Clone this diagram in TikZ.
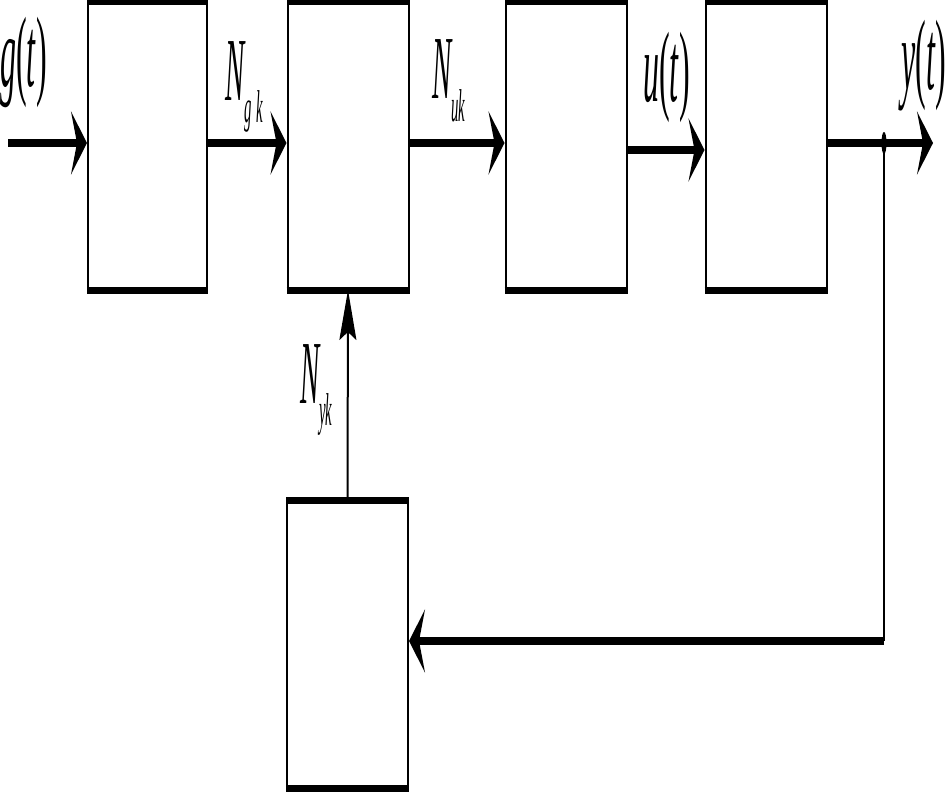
\documentclass[tikz,border=0pt]{standalone}
\usepackage{fontspec}
\usepackage{tikz}
\usetikzlibrary{arrows.meta}
\newfontfamily\tallfont[FakeStretch=0.32]{Liberation Serif}
\newcommand{\bigsize}{\fontsize{100}{100}\selectfont}
\newcommand{\midsize}{\fontsize{90}{90}\selectfont}
\newcommand{\subsize}{\fontsize{46}{46}\selectfont}
\tikzset{
  blockbox/.style={draw, line width=2pt, minimum width=121pt, minimum height=286pt, inner sep=0pt},
  bar/.style={line width=7pt},
  bigarrow/.style={line width=8pt, -{Stealth[length=16pt, width=63pt, inset=6pt]}},
  thinarrow/.style={line width=2pt, -{Stealth[length=50pt, width=17pt, inset=8pt]}},
  signal/.style={font=\tallfont\itshape\bigsize, inner sep=0pt, anchor=base west},
  index/.style={font=\tallfont\itshape\midsize, inner sep=0pt, anchor=base west}
}

\begin{document}
\begin{tikzpicture}[x=1pt, y=-1pt]
    \useasboundingbox (0,0) rectangle (945,792);

    % Blocks
    \node[blockbox, minimum width=119pt] (b1) at (147.5,146) {};
    \node[blockbox] (b2) at (348,146) {};
    \node[blockbox] (b3) at (566,146) {};
    \node[blockbox] (b4) at (766,146) {};
    \node[blockbox] (b5) at (347.5,644.5) {};

    % Thick top and bottom bars
    \foreach \b in {b1,b2,b3,b4,b5} {
        \draw[bar] (\b.north west) -- (\b.north east);
        \draw[bar] (\b.south west) -- (\b.south east);
    }

    % Signal points
    \coordinate (in) at (8,143);   % input
    \coordinate (br) at (884,143); % branch point
    \coordinate (out) at (933,143); % output
    \coordinate (cr) at (884,641); % corner of the feedback loop

    % Forward path
    \draw[bigarrow] (in) -- (in -| b1.west);
    \draw[bigarrow] ([yshift=3pt]b1.east) -- ([yshift=3pt]b2.west);
    \draw[bigarrow] ([yshift=3pt]b2.east) -- ([yshift=3pt]b3.west);
    \draw[bigarrow] ([yshift=-4pt]b3.east) -- ([yshift=-4pt]b4.west);
    \draw[bigarrow] ([yshift=3pt]b4.east) -- (out);
    \fill (br) ellipse (2.5pt and 11pt);

    % Feedback path
    \draw[line width=2pt] (br) -- (cr);
    \draw[bigarrow] (cr) -- (cr -| b5.east);
    \draw[thinarrow] (b5.north) -- (b2.south);

    % Labels
    \node[signal] (lg) at (0,87) {g\textup{(}t\textup{)}};
    \node[index] (lngk) at (225,100) {N\raisebox{-22pt}{\subsize g\kern5pt k}};
    \node[index] (lnuk) at (432,99) {N\raisebox{-23pt}{\subsize uk}};
    \node[signal] (lu) at (643,101) {u\textup{(}t\textup{)}};
    \node[signal] (ly) at (901,89) {y\textup{(}t\textup{)}};
    \node[index] (lnyk) at (300,403) {N\raisebox{-22pt}{\subsize yk}};

\end{tikzpicture}
\end{document}
